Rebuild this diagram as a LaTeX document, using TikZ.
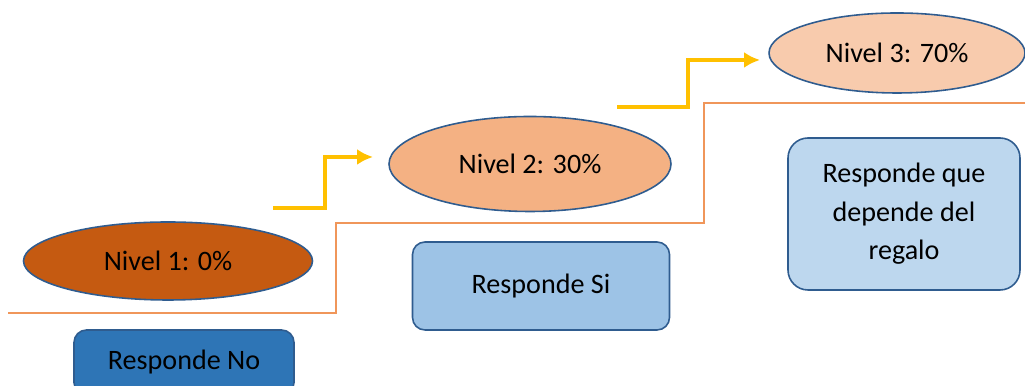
\documentclass[tikz,border=0pt]{standalone}
\usepackage{fontspec}
\setmainfont{Carlito}
\usetikzlibrary{shapes,arrows.meta,positioning}
\definecolor{nivelA}{HTML}{C55A11}
\definecolor{nivelB}{HTML}{F4B183}
\definecolor{nivelC}{HTML}{F8CBAD}
\definecolor{rimblue}{HTML}{2F5C8F}
\definecolor{respA}{HTML}{2E75B6}
\definecolor{respB}{HTML}{9DC3E6}
\definecolor{respC}{HTML}{BDD7EE}
\definecolor{stepline}{RGB}{240,150,90}
\definecolor{arrowgold}{HTML}{FFC000}
\tikzset{
  nivel/.style={ellipse, inner sep=0pt, draw=rimblue, line width=0.9pt, font=\fontsize{16}{22}\selectfont},
  resp/.style={rectangle, rounded corners=0.25cm, draw=rimblue, line width=0.9pt, align=center, font=\fontsize{16}{22}\selectfont},
  climb/.style={arrowgold, line width=1.9pt, -{Latex[length=9pt,width=9pt]}},
  stair/.style={stepline, line width=0.9pt}
}

\begin{document}
\begin{tikzpicture}
  \useasboundingbox (0,0) rectangle (20.5,7.72);
  \clip (0,0) rectangle (20.5,7.72);
  % escalera
  \coordinate (L0) at (0.16,1.46);
  \coordinate (L1) at (6.72,3.26);
  \coordinate (L2) at (14.08,5.66);
  \coordinate (L3) at (20.5,5.66);
  \draw[stair] (L0) -| (L1) -| (L2) -- (L3);
  % niveles
  \node[nivel,fill=nivelA,minimum width=5.78cm,minimum height=1.56cm] (N1) at (3.36,2.50) {Nivel 1: 0\%};
  \node[nivel,fill=nivelB,minimum width=5.64cm,minimum height=1.90cm] (N2) at (10.60,4.44) {Nivel 2: 30\%};
  \node[nivel,fill=nivelC,minimum width=5.12cm,minimum height=1.60cm] (N3) at (17.94,6.66) {Nivel 3: 70\%};
  % respuestas
  \node[resp,fill=respA,minimum width=4.40cm,minimum height=1.30cm] (R1) at (3.68,0.47) {Responde No};
  \node[resp,fill=respB,minimum width=5.14cm,minimum height=1.76cm] (R2) at (10.82,2.00) {Responde Si};
  \node[resp,fill=respC,rounded corners=0.4cm,minimum width=4.64cm,minimum height=3.04cm] (R3) at (18.08,3.44) {Responde que\\depende del\\regalo};
  % flechas
  \coordinate (S1) at (5.46,3.56);
  \coordinate (E1) at (7.46,4.58);
  \coordinate (S2) at (12.34,5.58);
  \coordinate (E2) at (15.20,6.52);
  \draw[climb] (S1) -- +(1.04,0) |- (E1);
  \draw[climb] (S2) -- +(1.42,0) |- (E2);
\end{tikzpicture}
\end{document}
